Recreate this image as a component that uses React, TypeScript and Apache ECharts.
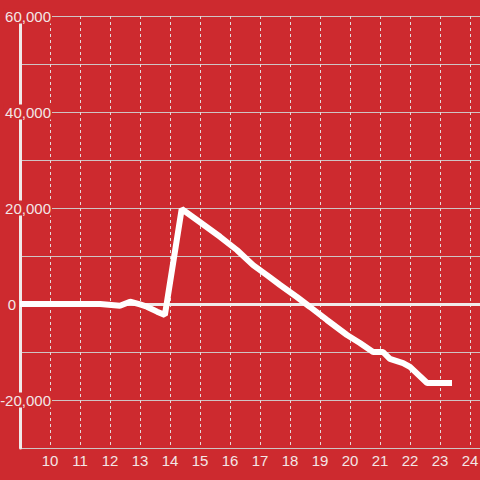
import React, { useEffect, useRef } from "react";
import * as echarts from "echarts";

const hours = [9, 11.67, 12.33, 12.67, 13.0, 13.23, 13.57, 13.83, 14.39, 14.9, 15.67, 16.23, 16.77, 17.23, 17.67, 18.23, 18.67, 19.23, 19.9, 20.33, 20.77, 21.1, 21.33, 21.77, 22.0, 22.57, 23.4];
const values = [0, 0, -350, 480, -100, -560, -1600, -2300, 19800, 17500, 14000, 11250, 8100, 6000, 3960, 1460, -625, -3330, -6460, -8125, -10000, -10000, -11450, -12300, -13100, -16460, -16460];
const xTicks = [10, 11, 12, 13, 14, 15, 16, 17, 18, 19, 20, 21, 22, 23, 24];
const yLabelValues = [60000, 40000, 20000, 0, -20000];

const BG = "#cd2a2f";
const TXT = "#f3e6e6";
const FONT = "'Liberation Sans', Arial, sans-serif";

export default function App() {
  const ref = useRef<HTMLDivElement>(null);
  useEffect(() => {
    if (!ref.current) return;
    const chart = echarts.init(ref.current, undefined, { renderer: "svg" });
    const data = hours.map((h, i) => [h, values[i]]);
    chart.setOption({
      animation: false,
      backgroundColor: BG,
      textStyle: { fontFamily: FONT },
      grid: { left: 20, right: 0, top: 16, bottom: 32, outerBoundsMode: "none", containLabel: false },
      xAxis: {
        type: "value",
        min: 9,
        max: 9 + 460 / 30,
        interval: 1,
        axisLine: { show: false, onZero: false },
        axisTick: { show: false },
        axisLabel: {
          color: TXT,
          fontSize: 15,
          fontFamily: FONT,
          margin: 5,
          formatter: (v: number) => (xTicks.indexOf(Math.round(v * 1000) / 1000) >= 0 ? String(v) : ""),
        },
        splitLine: { show: true, lineStyle: { color: "#e4dada", width: 1, type: [3, 3] } },
      },
      yAxis: {
        type: "value",
        min: -30000,
        max: 60000,
        interval: 10000,
        axisLine: { show: true, onZero: false, lineStyle: { color: "#f0eaea", width: 3 } },
        axisTick: { show: false },
        axisLabel: {
          margin: -32,
          align: "right",
          color: TXT,
          fontFamily: FONT,
          fontSize: 15,
          formatter: (v: number) => {
            if (yLabelValues.indexOf(v) < 0) return "";
            if (v === 0) return "{z|0}";
            return "{a|" + v.toLocaleString("en-US") + "}";
          },
          rich: {
            a: { color: TXT, fontSize: 15, fontFamily: FONT, backgroundColor: BG, lineHeight: 15, padding: [0, 1, 0, 2] },
            z: { color: TXT, fontSize: 15, fontFamily: FONT, padding: [0, 36, 0, 0] },
          },
        },
        splitLine: { show: true, lineStyle: { color: "#cfc4c4", width: 1 } },
      },
      series: [
        {
          type: "line",
          data,
          showSymbol: false,
          symbol: "none",
          lineStyle: { color: "#ffffff", width: 6 },
          z: 3,
          markLine: {
            silent: true,
            symbol: "none",
            label: { show: false },
            lineStyle: { color: "#f0eaea", width: 3, type: "solid" },
            data: [{ yAxis: 0 }],
            z: 2,
          },
        },
      ],
    });
    return () => chart.dispose();
  }, []);
  return <div ref={ref} style={{ position: "fixed", left: 0, top: 0, width: 480, height: 480 }} />;
}
